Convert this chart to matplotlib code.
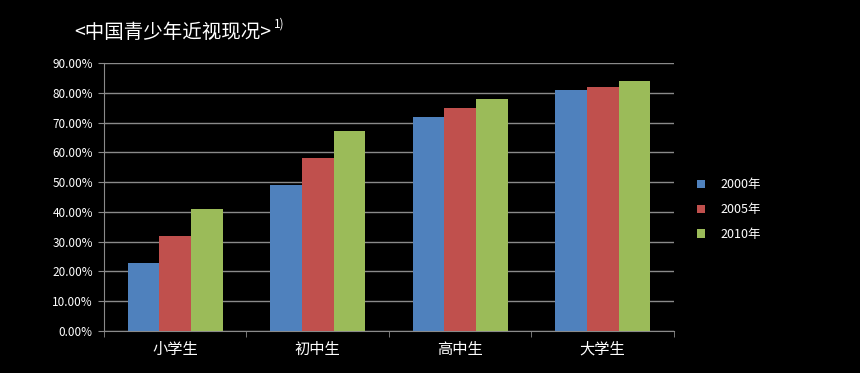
import numpy as np
import matplotlib.pyplot as plt
from matplotlib.ticker import FuncFormatter

plt.rcParams['font.family'] = ['Noto Sans CJK SC', 'DejaVu Sans']

categories = ['小学生', '初中生', '高中生', '大学生']
years = ['2000年', '2005年', '2010年']
rate_2000 = [23, 49, 72, 81]
rate_2005 = [32, 58, 75, 82]
rate_2010 = [41, 67, 78, 84]
colors = ['#4F81BD', '#C0504D', '#9BBB59']

fig = plt.figure(figsize=(8.6, 3.73), dpi=100, facecolor='black')
ax = fig.add_axes([0.1209, 0.1126, 0.6628, 0.7185], facecolor='black')

x = np.arange(len(categories))
w = 0.222
for i, (vals, c, lab) in enumerate(zip([rate_2000, rate_2005, rate_2010], colors, years)):
    ax.bar(x + (i - 1) * w, vals, width=w, color=c, label=lab, zorder=3)

ax.set_xlim(-0.5, len(categories) - 0.5)
ax.set_ylim(0, 90)
ax.set_yticks(np.arange(0, 91, 10))
ax.yaxis.set_major_formatter(FuncFormatter(lambda v, p: '%.2f%%' % v))
ax.grid(axis='y', color='#8a8a8a', linewidth=1, zorder=0)

ax.set_xticks(x)
ax.set_xticklabels(categories, fontsize=11, color='white')
ax.set_xticks(np.arange(-0.5, len(categories)), minor=True)
ax.tick_params(axis='x', which='major', length=0, pad=7)
ax.tick_params(axis='x', which='minor', length=4, color='#8a8a8a')
ax.tick_params(axis='y', length=4, color='#8a8a8a', labelsize=8.5, labelcolor='white', pad=4)

for s in ['top', 'right']:
    ax.spines[s].set_visible(False)
for s in ['left', 'bottom']:
    ax.spines[s].set_color('#8a8a8a')

leg = ax.legend(loc='center left', bbox_to_anchor=(1.02, 0.452), frameon=False,
                handlelength=0.7, handleheight=0.7, labelspacing=0.95, fontsize=9,
                handletextpad=1.2)
for t in leg.get_texts():
    t.set_color('white')

title = fig.text(0.086, 0.913, '<中国青少年近视现况>', color='white', fontsize=14,
                 fontweight='medium', va='center')
fig.canvas.draw()
bb = title.get_window_extent().transformed(fig.transFigure.inverted())
fig.text(bb.x1 + 0.004, 0.935, '1)', color='white', fontsize=8.5, va='center')

fig.savefig('out.png', facecolor='black')
